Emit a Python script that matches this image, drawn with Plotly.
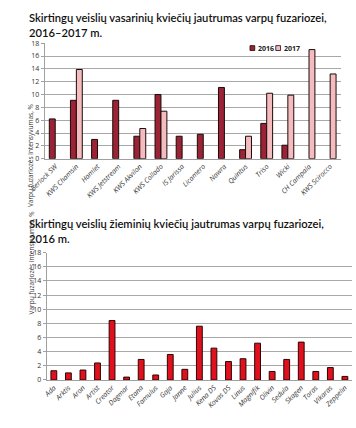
import plotly.graph_objects as go

# Chart 1: spring wheat
cats1 = ["Berlock SW", "KWS Chamsin", "Hamlet", "KWS Jetstream", "KWS Akvilon", "KWS Collado",
         "IS Jarissa", "Licamero", "Nawra", "Quintus", "Triso", "Wicki", "CH Campala", "KWS Scirocco"]
v2016 = [6.2, 9.1, 3.0, 9.1, 3.5, 10.0, 3.5, 3.8, 11.1, 1.4, 5.5, 2.1, None, None]
v2017 = [None, 13.9, None, None, 4.7, 7.4, None, None, None, 3.5, 10.2, 9.9, 17.0, 13.2]

# Chart 2: winter wheat
cats2 = ["Ada", "Arktis", "Aron", "Artist", "Creator", "Dagmar", "Etana", "Famulus", "Gaja", "Janne",
         "Julius", "Kena DS", "Kovas DS", "Linus", "Magnifik", "Olivin", "Sedula", "Skagen", "Toras",
         "Vikaras", "Zeppelin"]
v2 = [1.3, 1.0, 1.4, 2.4, 8.4, 0.4, 2.9, 0.7, 3.6, 1.5, 7.6, 4.5, 2.6, 3.0, 5.2, 1.2, 2.9, 5.35, 1.2, 1.75, 0.5]

title1 = "Skirtingų veislių vasarinių kviečių jautrumas varpų fuzariozei,<br>2016–2017 m."
title2 = "Skirtingų veislių žieminių kviečių jautrumas varpų fuzariozei,<br>2016 m."
ytitle = "Varpų fuzariozės intensyvumas, %"
series_names = ["2016", "2017"]
c2016, c2017, cwin = "#9b2335", "#f5bcc0", "#e0111d"

W, H = 356, 428
def py(px):
    return 1 - px / H
def pxx(px):
    return px / W

fig = go.Figure()
fig.add_bar(x=cats1, y=v2016, name=series_names[0], marker=dict(color=c2016, line=dict(color="#1a0a0a", width=1)),
            width=0.28, offset=-0.28, xaxis="x", yaxis="y")
fig.add_bar(x=cats1, y=v2017, name=series_names[1], marker=dict(color=c2017, line=dict(color="#1a0a0a", width=1)),
            width=0.28, offset=0.0, xaxis="x", yaxis="y")
fig.add_bar(x=cats2, y=v2, name="2016", marker=dict(color=cwin, line=dict(color="#2a0505", width=1)),
            width=0.4, xaxis="x2", yaxis="y2")

tickfont_x = dict(family="Open Sans", size=7, color="#333333", style="italic")
tickfont_y = dict(family="Open Sans", size=7, color="#333333")
common_x = dict(type="category", tickangle=-45, tickfont=tickfont_x, showgrid=False,
                showline=True, linecolor="#a0a0a0", linewidth=1, ticks="", fixedrange=True)
common_y = dict(range=[0, 18], dtick=2, tickfont=tickfont_y, showgrid=True, gridcolor="#a8a8a8",
                gridwidth=1, showline=True, linecolor="#a0a0a0", ticks="outside", ticklen=3,
                tickcolor="#a0a0a0", zeroline=False, fixedrange=True)

title_font = dict(family="Lato", size=11.2, color="#111111", weight=600)
ytitle_font = dict(family="Open Sans", size=6.5, color="#333333")
legend_font = dict(family="Open Sans", size=7, color="#222222", weight="bold")

# custom compact legend (square + label)
leg_items = [(245, c2016, series_names[0]), (272, c2017, series_names[1])]
shapes = []
annos = []
for lx, col, name in leg_items:
    shapes.append(dict(type="rect", xref="paper", yref="paper", x0=pxx(lx), x1=pxx(lx + 5),
                       y0=py(46.5), y1=py(41.5), fillcolor=col, line=dict(color="#1a0a0a", width=0.8)))
    annos.append(dict(text=name, x=pxx(lx + 6), y=py(44), xref="paper", yref="paper", xanchor="left",
                      yanchor="middle", showarrow=False, font=legend_font))

fig.update_layout(
    width=W, height=H, margin=dict(l=0, r=0, t=0, b=0),
    paper_bgcolor="white", plot_bgcolor="white",
    barmode="overlay", showlegend=False,
    xaxis=dict(common_x, domain=[pxx(30), pxx(340)], anchor="y"),
    yaxis=dict(common_y, domain=[py(157), py(39)], anchor="x"),
    xaxis2=dict(common_x, domain=[pxx(32), pxx(352)], anchor="y2"),
    yaxis2=dict(common_y, domain=[py(383), py(253)], anchor="x2"),
    shapes=shapes,
    annotations=annos + [
        dict(text=title1, x=pxx(11), y=py(4), xref="paper", yref="paper", xanchor="left", yanchor="top",
             align="left", showarrow=False, font=title_font),
        dict(text=title2, x=pxx(11), y=py(214), xref="paper", yref="paper", xanchor="left", yanchor="top",
             align="left", showarrow=False, font=title_font),
        dict(text=ytitle, x=pxx(9), y=(py(157) + py(39)) / 2, xref="paper", yref="paper", textangle=-90,
             showarrow=False, font=ytitle_font),
        dict(text=ytitle, x=pxx(9), y=(py(383) + py(253)) / 2, xref="paper", yref="paper", textangle=-90,
             showarrow=False, font=ytitle_font),
    ],
)

fig.write_html("out.html", config={"displayModeBar": False},
               post_script="document.body.style.margin='0';document.body.style.overflow='hidden';")
